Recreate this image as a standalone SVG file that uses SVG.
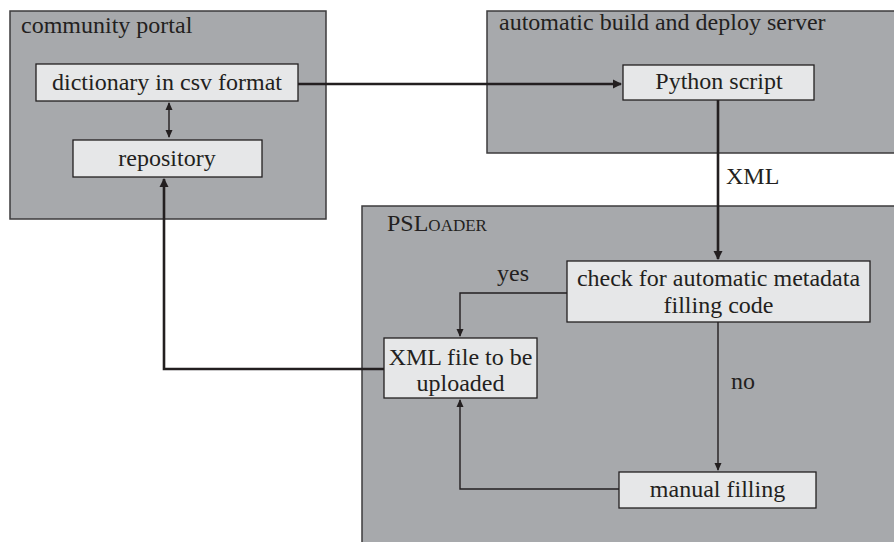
<svg xmlns="http://www.w3.org/2000/svg" width="894" height="542" viewBox="0 0 894 542">
<style>
text{font-family:'Liberation Serif','Times New Roman','DejaVu Serif',serif;font-size:24px;fill:#231f20}
.c{text-anchor:middle}
.grp{fill:#a7a9ac;stroke:#3c3b3d;stroke-width:1.5}
.node{fill:#e6e7e8;stroke:#231f20;stroke-width:1.3}
.thick{fill:none;stroke:#231f20;stroke-width:2.6}
.thin{fill:none;stroke:#231f20;stroke-width:1.4}
</style>
<defs>
<marker id="ab" markerWidth="10" markerHeight="10" refX="8" refY="5" orient="auto-start-reverse" markerUnits="userSpaceOnUse" viewBox="0 0 10 10">
<path d="M0,0.5 L9,5 L0,9.5 z" fill="#231f20"/>
</marker>
<marker id="as" markerWidth="10" markerHeight="10" refX="8" refY="5" orient="auto-start-reverse" markerUnits="userSpaceOnUse" viewBox="0 0 10 10">
<path d="M1,1.5 L9,5 L1,8.5 z" fill="#231f20"/>
</marker>
</defs>
<rect width="894" height="542" fill="#ffffff"/>
<g id="community-portal">
<rect class="grp" x="10" y="11" width="316" height="208"/>
<text x="21" y="33">community portal</text>
</g>
<g id="build-server">
<rect class="grp" x="487" y="11" width="410" height="142"/>
<text x="499" y="30">automatic build and deploy server</text>
</g>
<g id="psloader">
<rect class="grp" x="362" y="206" width="535" height="340"/>
<text x="387" y="231">PSL<tspan font-size="17px">OADER</tspan></text>
</g>
<g id="dictionary">
<rect class="node" x="36" y="64" width="262" height="37"/>
<text class="c" x="167" y="90">dictionary in csv format</text>
</g>
<g id="repository">
<rect class="node" x="73" y="140" width="189" height="37"/>
<text class="c" x="167" y="166">repository</text>
</g>
<g id="python-script">
<rect class="node" x="623" y="65" width="191" height="35"/>
<text class="c" x="719" y="89">Python script</text>
</g>
<g id="check">
<rect class="node" x="567" y="261" width="303" height="61"/>
<text class="c" x="718.5" y="286">check for automatic metadata</text>
<text class="c" x="718.5" y="313">filling code</text>
</g>
<g id="xml-file">
<rect class="node" x="384" y="338" width="153" height="60"/>
<text class="c" x="460.5" y="365">XML file to be</text>
<text class="c" x="460.5" y="391">uploaded</text>
</g>
<g id="manual-filling">
<rect class="node" x="619" y="472" width="197" height="36"/>
<text class="c" x="717.5" y="497">manual filling</text>
</g>
<g id="connectors">
<path class="thick" d="M298,84 H621" marker-end="url(#ab)"/>
<path class="thin" d="M169,103 V137" marker-start="url(#as)" marker-end="url(#as)"/>
<path class="thick" d="M718,100 V259" marker-end="url(#ab)"/>
<path class="thick" d="M384,369 H164 V179" marker-end="url(#ab)"/>
<path class="thin" d="M567,293 H460 V336" marker-end="url(#as)"/>
<path class="thin" d="M718,322 V470" marker-end="url(#as)"/>
<path class="thin" d="M619,489 H460 V400" marker-end="url(#as)"/>
<text x="726" y="184">XML</text>
<text class="c" x="513" y="281">yes</text>
<text x="731" y="389">no</text>
</g>
</svg>
